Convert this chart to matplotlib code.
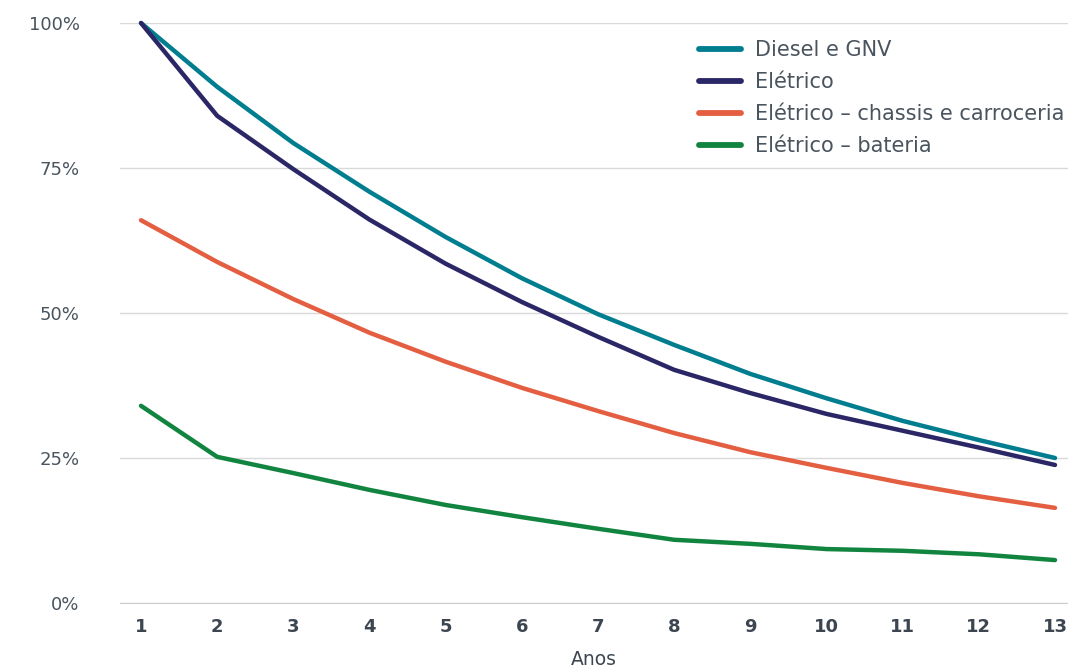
import matplotlib.pyplot as plt
from matplotlib.ticker import FuncFormatter

plt.rcParams['font.family'] = ['DejaVu Sans']

anos = list(range(1, 14))
diesel_gnv = [100, 89.0, 79.3, 70.9, 63.1, 56.0, 49.8, 44.5, 39.5, 35.3, 31.4, 28.1, 25.0]
chassis = [66.0, 58.8, 52.4, 46.6, 41.6, 37.1, 33.1, 29.3, 26.0, 23.3, 20.7, 18.4, 16.4]
bateria = [34.0, 25.2, 22.4, 19.5, 16.9, 14.8, 12.8, 10.9, 10.2, 9.3, 9.0, 8.4, 7.4]
eletrico = [c + b for c, b in zip(chassis, bateria)]

series = [
    ('Diesel e GNV', diesel_gnv, '#007e8f'),
    ('Elétrico', eletrico, '#2b2766'),
    ('Elétrico – chassis e carroceria', chassis, '#e45f42'),
    ('Elétrico – bateria', bateria, '#118540'),
]

text_color = '#4a545e'

fig = plt.figure(figsize=(10.68, 6.69), dpi=100)
ax = fig.add_axes([120 / 1068, 66 / 669, 948 / 1068, 580 / 669])

for name, vals, color in series:
    ax.plot(anos, vals, color=color, lw=3.2, solid_capstyle='round',
            solid_joinstyle='round', label=name, clip_on=False, zorder=3)

ax.set_xlim(1 - 21 / 76.17, 13 + 13 / 76.17)
ax.set_ylim(0, 100)
ax.set_yticks([0, 25, 50, 75, 100])
ax.yaxis.set_major_formatter(FuncFormatter(lambda v, p: f'{v:.0f}%'))
ax.set_xticks(anos)
ax.grid(axis='y', color='#d9d9d9', lw=1)
ax.set_axisbelow(True)
for s in ['top', 'right', 'left']:
    ax.spines[s].set_visible(False)
ax.spines['bottom'].set_color('#cccccc')
ax.tick_params(axis='both', length=0)
ax.tick_params(axis='y', pad=29, labelsize=13, labelcolor=text_color)
ax.tick_params(axis='x', pad=11, labelsize=13, labelcolor='#3d4650')
for t in ax.get_xticklabels():
    t.set_fontweight('semibold')
ax.set_xlabel('Anos', fontsize=13.5, color='#3d4650', labelpad=10)

leg = ax.legend(loc='upper left', bbox_to_anchor=(0.591, 1.003), frameon=False,
                fontsize=15, handlelength=2.0, handletextpad=0.7,
                labelspacing=0.58, labelcolor=text_color)
for h in leg.get_lines():
    h.set_linewidth(4.2)

fig.savefig('out.png', dpi=100)
